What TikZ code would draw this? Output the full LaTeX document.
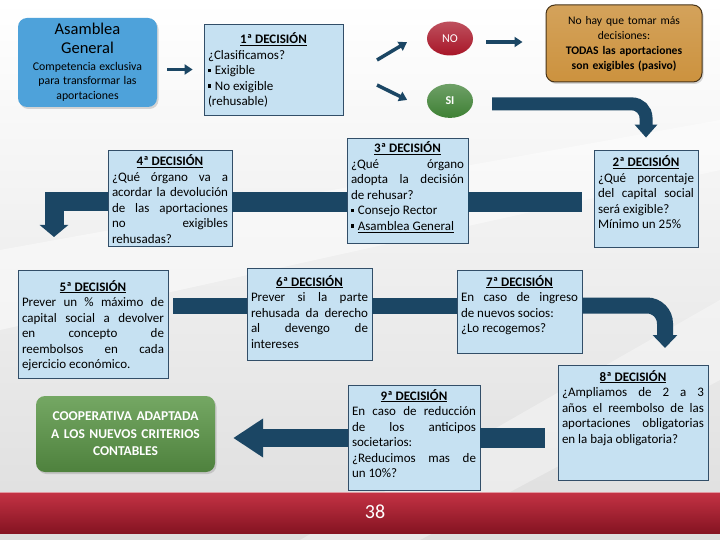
\documentclass[tikz,border=0pt]{standalone}
\usepackage{fontspec}
\setmainfont{Carlito}
\usetikzlibrary{positioning,arrows.meta,shapes.geometric,shadows}
\definecolor{SlideNavy}{RGB}{27,70,100}
\definecolor{DecFill}{RGB}{198,225,242}
\definecolor{DecEdge}{RGB}{50,78,104}
\definecolor{AsambleaBlue}{RGB}{78,162,218}
\definecolor{NoRed}{RGB}{168,22,40}
\definecolor{SiGreen}{RGB}{62,128,52}
\definecolor{FinGold}{RGB}{204,146,62}
\definecolor{FinEdge}{RGB}{72,52,24}
\definecolor{CoopGreen}{RGB}{92,152,72}
\definecolor{BarRed}{RGB}{190,28,48}
\newcommand{\sqb}{\raisebox{0.22em}{\rule{0.26em}{0.26em}}\hspace{3.5pt}}
\newcommand{\dectitle}[1]{{\centering\bfseries\underline{#1}\par}}
\tikzset{
  flow/.style={-{Triangle[width=10pt,length=8pt]},line width=3.5pt,draw=SlideNavy},
  band/.style={draw=SlideNavy,line width=#1},
  dec/.style={draw=DecEdge,fill=DecFill,line width=0.8pt,text width=#1,align=justify,
    inner xsep=4pt,inner ysep=5pt,text height=10pt,
    font=\fontsize{13}{15.5}\selectfont},
  roundbox/.style={rounded corners=9pt,align=center,inner sep=0pt,
    drop shadow={opacity=0.3,shadow xshift=1.5pt,shadow yshift=-2pt}},
  answer/.style={ellipse,minimum width=46pt,minimum height=34pt,inner sep=0pt,
    text=white,font=\fontsize{12}{14}\selectfont}
}
\begin{document}
\begin{tikzpicture}[x=1pt,y=-1pt,node distance=28pt]
  \shade[top color=white,bottom color=black!13] (0,0) rectangle (720,540);
  \useasboundingbox (0,0) rectangle (720,540);
  \fill[white,opacity=0.45] (0,250) -- (720,120) -- (720,170) -- (0,330) -- cycle;
  \fill[white,opacity=0.35] (300,540) -- (720,300) -- (720,380) -- (420,540) -- cycle;
  \shade[top color=BarRed!90!white,bottom color=BarRed!70!black] (0,492) rectangle (720,533);
  \draw[BarRed!45!white,line width=1pt] (0,492.5) -- (720,492.5);
  \node[text=white,font=\fontsize{20}{24}\selectfont] (pag) at (375,512) {38};

  \node[roundbox,fill=AsambleaBlue,text width=134pt,minimum width=139pt,minimum height=89pt]
    (asamblea) at (87.5,62.5) {{\fontsize{16.5}{19}\selectfont Asamblea\\ General\par}
    \vspace{1.5pt}{\fontsize{11.8}{14.8}\selectfont Competencia exclusiva\\ para transformar las\\ aportaciones\par}};
  \node[dec=131pt,text height=15pt,text depth=66pt] (d1) at (273.5,69.5) {\dectitle{1ª DECISIÓN}
    ¿Clasificamos?\\ \sqb Exigible\\ \sqb No exigible\\ (rehusable)};
  \node[answer,top color=NoRed!75!white,bottom color=NoRed] (no) at (450,38.5) {NO};
  \node[answer,top color=SiGreen!75!white,bottom color=SiGreen,below=of no] (si) {\textbf{SI}};
  \node[roundbox,draw=FinEdge,line width=1pt,top color=FinGold!85!white,bottom color=FinGold,
    text width=150pt,minimum width=156pt,minimum height=77pt,font=\fontsize{11.6}{15}\selectfont]
    (fin) at (624,43.5) {No hay que tomar más\\ decisiones:\\ \textbf{TODAS las aportaciones\\ son exigibles (pasivo)}};

  \node[dec=96pt,text height=12pt,text depth=75pt] (d2) at (646,198.5) {\dectitle{2ª DECISIÓN}
    ¿Qué porcentaje\linebreak del capital social\linebreak será exigible?\\ Mínimo un 25\%};
  \node[dec=113pt,text depth=85pt] (d3) at (407.5,190.5) {\dectitle{3ª DECISIÓN}
    ¿Qué órgano\linebreak adopta la decisión\linebreak de rehusar?\\ \sqb Consejo Rector\\ \sqb\underline{Asamblea General}};
  \node[dec=116pt,text height=11pt,text depth=75pt] (d4) at (170,198) {\dectitle{4ª DECISIÓN}
    ¿Qué órgano va a\linebreak acordar la devolución\linebreak de las aportaciones\linebreak no exigibles\linebreak rehusadas?};
  \node[dec=142pt,text height=16pt,text depth=82pt] (d5) at (93,324) {\dectitle{5ª DECISIÓN}
    Prever un \% máximo de\linebreak capital social a devolver\linebreak en concepto de\linebreak reembolsos en cada\linebreak ejercicio económico.};
  \node[dec=117pt,text height=13pt,text depth=69pt] (d6) at (309.5,314) {\dectitle{6ª DECISIÓN}
    Prever si la parte\linebreak rehusada da derecho\linebreak al devengo de\linebreak intereses};
  \node[dec=117pt,text height=11pt,text depth=62pt] (d7) at (519.5,311.5) {\dectitle{7ª DECISIÓN}
    En caso de ingreso\linebreak de nuevos socios:\\ ¿Lo recogemos?};
  \node[dec=142pt,text height=11pt,text depth=94pt] (d8) at (633,422.5) {\dectitle{8ª DECISIÓN}
    ¿Ampliamos de 2 a 3\linebreak años el reembolso de las\linebreak aportaciones obligatorias\linebreak en la baja obligatoria?};
  \node[dec=124pt,text depth=85pt] (d9) at (414,437.5) {\dectitle{9ª DECISIÓN}
    En caso de reducción\linebreak de los anticipos\linebreak societarios:\\ ¿Reducimos mas de\linebreak un 10\%?};
  \node[roundbox,top color=CoopGreen!85!white,bottom color=CoopGreen!85!black,text=white,
    text width=175pt,minimum width=179pt,minimum height=76pt,font=\fontsize{13.5}{17.5}\selectfont\bfseries]
    (coop) at (125.5,434) {COOPERATIVA ADAPTADA\\ A LOS NUEVOS CRITERIOS\\ CONTABLES};

  \coordinate (tno) at (377,60);
  \coordinate (tsi) at (377,85);
  \coordinate (row2) at (0,202);
  \coordinate (row3) at (0,305.5);
  \coordinate (row4) at (0,438);
  \coordinate (d4end) at (54,237);
  \coordinate (d7end) at (665,348);

  \draw[flow,shorten <=10pt,shorten >=11pt] (asamblea.east |- d1) -- (d1.west);
  \draw[flow,shorten >=31pt] (tno) -- (no.north west);
  \draw[flow,shorten >=29.5pt] (tsi) -- (si.south west);
  \draw[flow,shorten <=13pt,shorten >=23pt] ([yshift=-3.5pt]no.east) -- ([yshift=-3.5pt]no.east -| fin.west);
  \draw[band=13pt,-{Triangle[width=22pt,length=13pt]},rounded corners=14pt,shorten <=19pt,shorten >=12pt]
    ([yshift=-3pt]si.east) -| (d2.north);
  \draw[band=20pt,shorten <=12pt] (d2.west |- row2) -- (d3.east |- row2);
  \draw[band=20pt] (d3.west |- row2) -- (d4.east |- row2);
  \draw[band=19pt,-{Triangle[width=28pt,length=12pt]}] (d4.west |- row2) -| (d4end);
  \draw[band=16pt,shorten <=5pt] (d5.east |- row3) -- (d6.west |- row3);
  \draw[band=16pt] (d6.east |- row3) -- (d7.west |- row3);
  \draw[band=16pt,-{Triangle[width=24pt,length=13pt]},rounded corners=18pt] (d7.east |- row3) -| (d7end);
  \draw[band=20pt,shorten <=13pt] (d8.west |- row4) -- (d9.east |- row4);
  \draw[band=18pt,-{Triangle[width=37pt,length=30pt]},shorten >=18pt] (d9.west |- row4) -- (coop.east |- row4);
\end{tikzpicture}
\end{document}
